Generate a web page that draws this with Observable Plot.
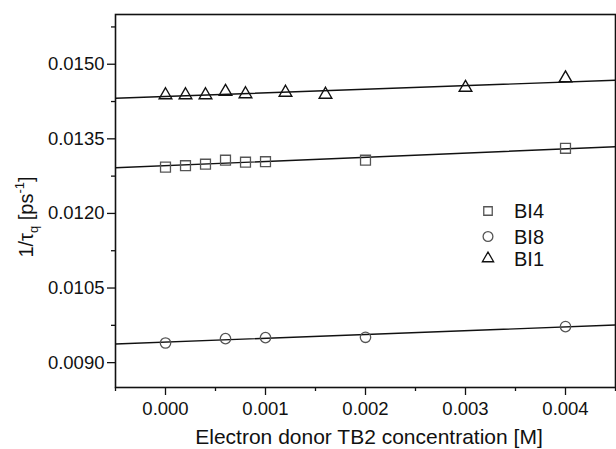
<!DOCTYPE html>
<html><head><meta charset="utf-8">
<script src="https://cdn.jsdelivr.net/npm/d3@7"></script>
<script src="https://cdn.jsdelivr.net/npm/@observablehq/plot@0.6"></script>
<style>body{margin:0;background:#fff} #chart{width:616px;height:449px}</style>
</head><body><div id="chart"></div>
<script>
// ---- data ----
const seriesNames = ["BI4", "BI8", "BI1"];
const bi4X = [0, 0.0002, 0.0004, 0.0006, 0.0008, 0.001, 0.002, 0.004];
const bi4Y = [0.01293, 0.01296, 0.01299, 0.01307, 0.01303, 0.01304, 0.01307, 0.01331];
const bi8X = [0, 0.0006, 0.001, 0.002, 0.004];
const bi8Y = [0.009395, 0.009483, 0.009503, 0.009509, 0.009725];
const bi1X = [0, 0.0002, 0.0004, 0.0006, 0.0008, 0.0012, 0.0016, 0.003, 0.004];
const bi1Y = [0.01438, 0.01438, 0.01438, 0.01445, 0.0144, 0.01443, 0.01439, 0.01453, 0.01472];
// linear fits (intercept, slope) per series, same order as seriesNames
const fitIntercept = [0.01296, 0.009413, 0.014351];
const fitSlope = [0.0846, 0.0764, 0.0726];
// axes
const xDomain = [-0.0005, 0.0045];
const yDomain = [0.0085, 0.0160];
const xTicks = [0, 0.001, 0.002, 0.003, 0.004];
const xMinorTicks = [-0.0005, 0.0005, 0.0015, 0.0025, 0.0035, 0.0045];
const yTicks = [0.0090, 0.0105, 0.0120, 0.0135, 0.0150];
const yMinorTicks = [0.00975, 0.01125, 0.01275, 0.01425, 0.01575];
const xLabel = "Electron donor TB2 concentration [M]";

const toPts = (xs, ys) => xs.map((x, i) => ({x, y: ys[i]}));
const bi4 = toPts(bi4X, bi4Y), bi8 = toPts(bi8X, bi8Y), bi1 = toPts(bi1X, bi1Y);
const fits = seriesNames.flatMap((s, i) => xDomain.map(x => ({series: s, x, y: fitIntercept[i] + fitSlope[i] * x})));

const font = "'Liberation Sans', Arial, sans-serif";
const plot = Plot.plot({
  width: 616, height: 449,
  marginLeft: 115, marginTop: 14, marginRight: 1, marginBottom: 62,
  style: {fontFamily: font, fontSize: "18.5px", color: "#111", background: "#fff"},
  x: {domain: xDomain},
  y: {domain: yDomain},
  marks: [
    Plot.axisX({ticks: xTicks, tickSize: 8, tickPadding: 6, tickFormat: d3.format(".3f"), label: null, stroke: "#111", strokeWidth: 1.3}),
    Plot.axisX({ticks: xMinorTicks, tickSize: 4, tickFormat: () => "", label: null, stroke: "#111", strokeWidth: 1.3}),
    Plot.axisY({ticks: yTicks, tickSize: 8, tickPadding: 3, tickFormat: d3.format(".4f"), label: null, stroke: "#111", strokeWidth: 1.3}),
    Plot.axisY({ticks: yMinorTicks, tickSize: 4, tickFormat: () => "", label: null, stroke: "#111", strokeWidth: 1.3}),
    Plot.line(fits, {x: "x", y: "y", z: "series", stroke: "#111", strokeWidth: 1.4, clip: true}),
    Plot.dot(bi4, {x: "x", y: "y", symbol: "square", r: 5.6, stroke: "#555", strokeWidth: 1.3, fill: "none"}),
    Plot.dot(bi8, {x: "x", y: "y", symbol: "circle", r: 5.2, stroke: "#555", strokeWidth: 1.3, fill: "none"}),
    Plot.dot(bi1, {x: "x", y: "y", symbol: "triangle", r: 4.7, stroke: "#111", strokeWidth: 1.4, fill: "none"}),
    Plot.frame({stroke: "#111", strokeWidth: 1.6})
  ]
});
document.getElementById("chart").appendChild(plot);

// ---- labels and legend ----
const svg = d3.select(plot);
const ylab = svg.append("text")
  .attr("transform", "translate(33,217) rotate(-90)")
  .attr("text-anchor", "middle")
  .attr("font-family", font).attr("font-size", 20).attr("fill", "#111");
ylab.append("tspan").text("1/τ");
ylab.append("tspan").attr("font-size", 13).attr("dy", 5).text("q");
ylab.append("tspan").attr("dy", -5).text(" [ps");
ylab.append("tspan").attr("font-size", 13).attr("dy", -9).text("-1");
ylab.append("tspan").attr("dy", 9).text("]");

svg.append("text")
  .attr("x", 369).attr("y", 444)
  .attr("text-anchor", "middle")
  .attr("font-family", font).attr("font-size", 21).attr("fill", "#111")
  .text(xLabel);

const legendSym = [d3.symbolSquare, d3.symbolCircle, d3.symbolTriangle];
const legendSize = [72, 75, 55];
const legendStroke = ["#555", "#555", "#111"];
const legendY = [211, 236.5, 258.5];
seriesNames.forEach((s, i) => {
  svg.append("path")
    .attr("d", d3.symbol(legendSym[i], legendSize[i])())
    .attr("transform", `translate(488,${legendY[i]})`)
    .attr("fill", "none").attr("stroke", legendStroke[i]).attr("stroke-width", 1.3);
  svg.append("text")
    .attr("x", 514).attr("y", legendY[i])
    .attr("dy", "0.36em")
    .attr("text-anchor", "start")
    .attr("font-family", font).attr("font-size", 20).attr("fill", "#111")
    .text(s);
});
</script>
</body></html>
